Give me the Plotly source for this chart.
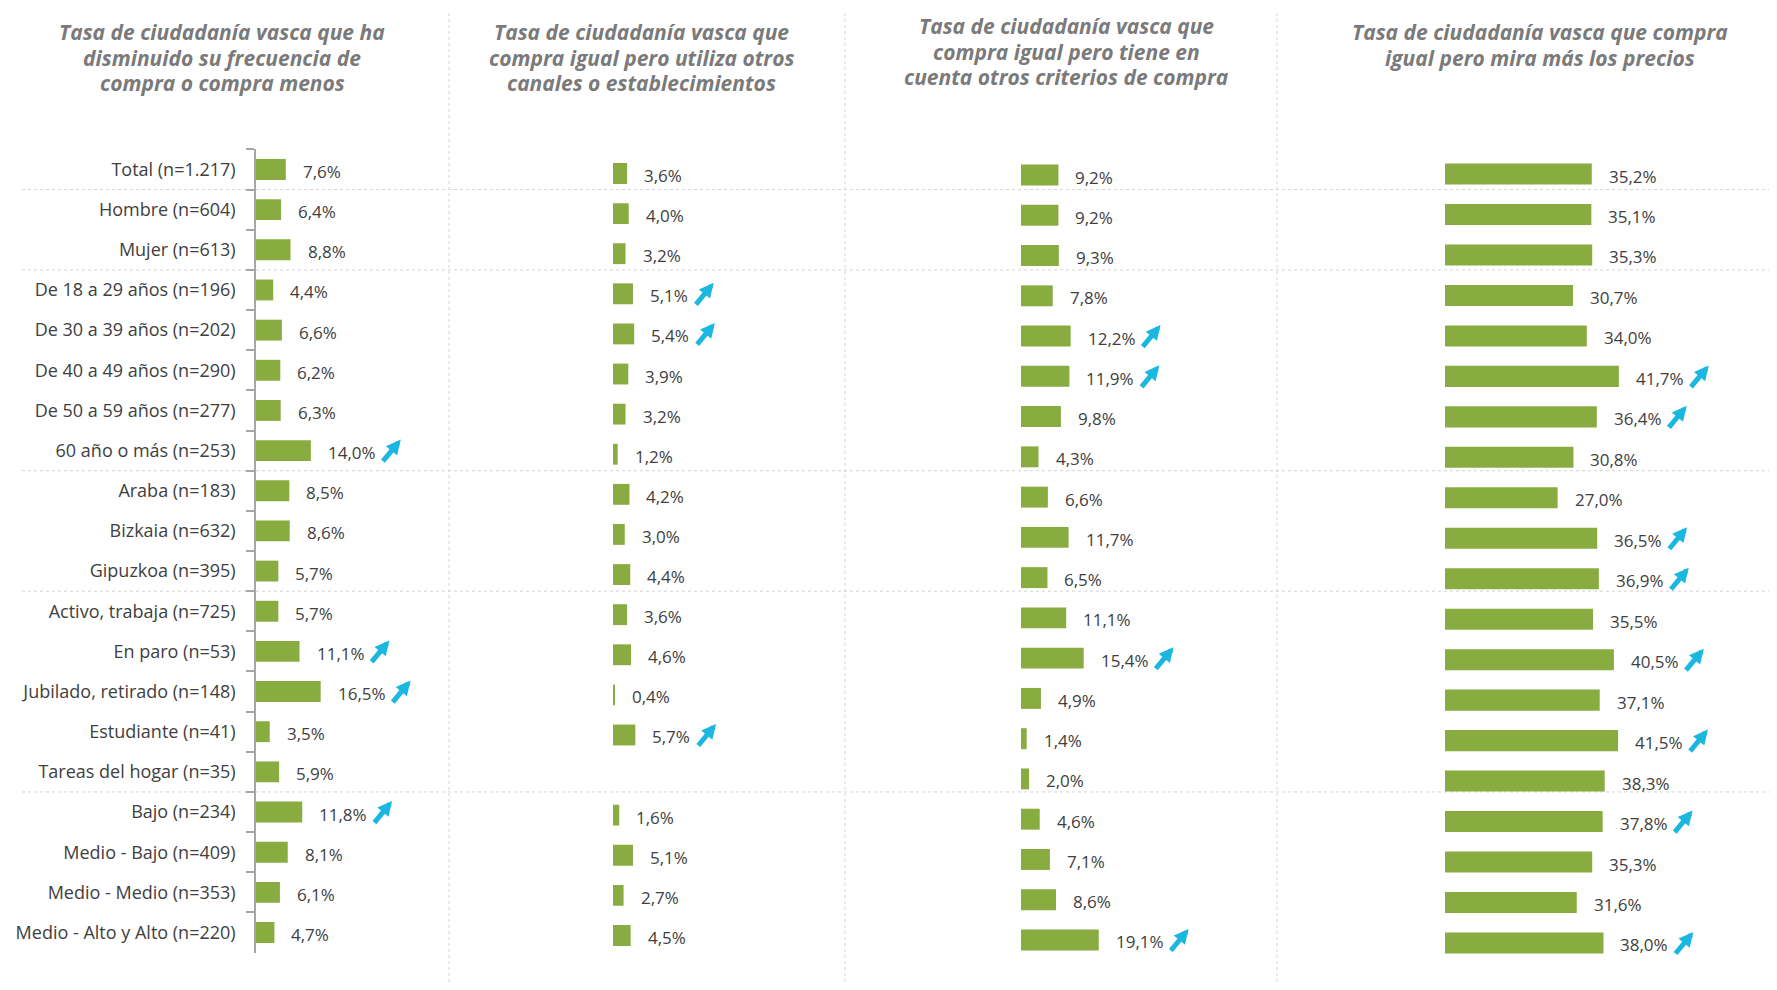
import plotly.graph_objects as go

# ---------------- DATA ----------------
categories = [
    "Total (n=1.217)", "Hombre (n=604)", "Mujer (n=613)",
    "De 18 a 29 años (n=196)", "De 30 a 39 años (n=202)", "De 40 a 49 años (n=290)",
    "De 50 a 59 años (n=277)", "60 año o más (n=253)",
    "Araba (n=183)", "Bizkaia (n=632)", "Gipuzkoa (n=395)",
    "Activo, trabaja (n=725)", "En paro (n=53)", "Jubilado, retirado (n=148)",
    "Estudiante (n=41)", "Tareas del hogar (n=35)",
    "Bajo (n=234)", "Medio - Bajo (n=409)", "Medio - Medio (n=353)",
    "Medio - Alto y Alto (n=220)",
]

titles = [
    ["Tasa de ciudadanía vasca que ha", "disminuido su frecuencia de", "compra o compra menos"],
    ["Tasa de ciudadanía vasca que", "compra igual pero utiliza otros", "canales o establecimientos"],
    ["Tasa de ciudadanía vasca que", "compra igual pero tiene en", "cuenta otros criterios de compra"],
    ["Tasa de ciudadanía vasca que compra", "igual pero mira más los precios"],
]

compra_menos = [7.6, 6.4, 8.8, 4.4, 6.6, 6.2, 6.3, 14.0, 8.5, 8.6, 5.7,
                5.7, 11.1, 16.5, 3.5, 5.9, 11.8, 8.1, 6.1, 4.7]
otros_canales = [3.6, 4.0, 3.2, 5.1, 5.4, 3.9, 3.2, 1.2, 4.2, 3.0, 4.4,
                 3.6, 4.6, 0.4, 5.7, None, 1.6, 5.1, 2.7, 4.5]
otros_criterios = [9.2, 9.2, 9.3, 7.8, 12.2, 11.9, 9.8, 4.3, 6.6, 11.7, 6.5,
                   11.1, 15.4, 4.9, 1.4, 2.0, 4.6, 7.1, 8.6, 19.1]
mira_precios = [35.2, 35.1, 35.3, 30.7, 34.0, 41.7, 36.4, 30.8, 27.0, 36.5, 36.9,
                35.5, 40.5, 37.1, 41.5, 38.3, 37.8, 35.3, 31.6, 38.0]

# rows flagged with a significant increase (arrow)
arrows_menos = [7, 12, 13, 16]
arrows_canales = [3, 4, 14]
arrows_criterios = [4, 5, 12, 19]
arrows_precios = [5, 6, 9, 10, 12, 14, 16, 19]

group_breaks = [0.5, 2.5, 7.5, 10.5, 15.5]

series = [compra_menos, otros_canales, otros_criterios, mira_precios]
arrow_rows = [arrows_menos, arrows_canales, arrows_criterios, arrows_precios]

# ---------------- LAYOUT CONSTANTS ----------------
OFF = 8                      # page body margin
W, H = 1777 - 2 * OFF, 990 - 2 * OFF
BAR = "#88AC3F"
ARROW = "#1AB7E0"
TXT = "#404040"
TITLE = "#7A7A7A"
GRID = "#D4D4D4"
FONT = "Open Sans"
LBL = 17


def fx(X):
    return min(1.0, max(0.0, (X - OFF) / W))


def fy(Y):
    return min(1.0, max(0.0, 1 - (Y - OFF) / H))


# x: (origin px, end px, px per %) ; y: (top px, bottom px)  -- screen coords
xpix = [(256, 446, 3.92), (613, 843, 3.92), (1021, 1275, 4.07), (1445, 1765, 4.17)]
ypix = [(149.4, 952.6), (153.45, 955.55), (154.9, 960.1), (153.8, 963.2)]
title_pos = [(222, 32), (641, 32), (1066, 26), (1540, 32)]
TITLE_PITCH = 25.6
vsep = [449, 845, 1277]


def text_width(s, size=LBL):
    w = 0.0
    for ch in s:
        if ch.isdigit():
            w += 0.54
        elif ch == ",":
            w += 0.23
        elif ch == "%":
            w += 0.79
        else:
            w += 0.52
    return w * size


fig = go.Figure()
annotations = []
shapes = []

for i, vals in enumerate(series):
    n = "" if i == 0 else str(i + 1)
    xa, ya = "x" + n, "y" + n
    fig.add_trace(go.Bar(
        x=vals, y=categories, orientation="h", xaxis=xa, yaxis=ya,
        marker=dict(color=BAR, line=dict(width=0)), hoverinfo="skip",
        showlegend=False,
    ))
    x0, x1, scale = xpix[i]
    t, b = ypix[i]
    fig.layout["xaxis" + n] = dict(
        domain=[fx(x0), fx(x1)], range=[0, (x1 - x0) / scale],
        visible=False, fixedrange=True, anchor=ya,
    )
    yax = dict(
        domain=[fy(b), fy(t)], type="category",
        categoryorder="array", categoryarray=categories,
        range=[len(categories) - 0.5, -0.5], anchor=xa, fixedrange=True,
        showgrid=False, zeroline=False,
    )
    if i == 0:
        yax.update(
            showline=True, linecolor="#A6A6A6", linewidth=1.5,
            ticks="outside", tickson="boundaries", ticklen=8,
            tickcolor="#A6A6A6", tickwidth=1.5,
            tickfont=dict(family=FONT, size=18, color=TXT),
            ticklabelstandoff=15,
        )
    else:
        yax.update(showline=False, showticklabels=False, ticks="")
    fig.layout["yaxis" + n] = yax

    for r, v in enumerate(vals):
        if v is None:
            continue
        lab = f"{v:.1f}".replace(".", ",") + "%"
        annotations.append(dict(
            x=v, y=categories[r], xref=xa, yref=ya, text=lab,
            showarrow=False, xanchor="left", yanchor="middle",
            xshift=15, yshift=-2,
            font=dict(family=FONT, size=LBL, color=TXT),
        ))
        if r in arrow_rows[i]:
            annotations.append(dict(
                x=v, y=categories[r], xref=xa, yref=ya, text="",
                showarrow=True, arrowhead=2, arrowsize=0.58, arrowwidth=5,
                arrowcolor=ARROW, ax=-19, ay=23,
                xshift=text_width(lab) + 45, yshift=11,
            ))

    tx, ty = title_pos[i]
    for k, line in enumerate(titles[i]):
        annotations.append(dict(
            x=fx(tx), y=fy(ty + k * TITLE_PITCH), xref="paper", yref="paper",
            text="<b><i>" + line + "</i></b>", showarrow=False,
            xanchor="center", yanchor="middle", align="center",
            font=dict(family=FONT, size=21, color=TITLE),
        ))

# horizontal group separators
for yb in group_breaks:
    shapes.append(dict(
        type="line", xref="paper", yref="y", x0=fx(22), x1=1, y0=yb, y1=yb,
        line=dict(color=GRID, width=1, dash="3px,3px"), layer="below",
    ))
# vertical panel separators
for xv in vsep:
    shapes.append(dict(
        type="line", xref="paper", yref="paper", x0=fx(xv), x1=fx(xv),
        y0=0, y1=fy(10),
        line=dict(color=GRID, width=1, dash="3px,3px"), layer="below",
    ))

fig.update_layout(
    width=W, height=H, margin=dict(l=0, r=0, t=0, b=0),
    paper_bgcolor="white", plot_bgcolor="rgba(0,0,0,0)",
    bargap=0.48, barmode="group",
    annotations=annotations, shapes=shapes, hovermode=False,
    font=dict(family=FONT, color=TXT),
)

fig.write_html("out.html", config={"displayModeBar": False})
